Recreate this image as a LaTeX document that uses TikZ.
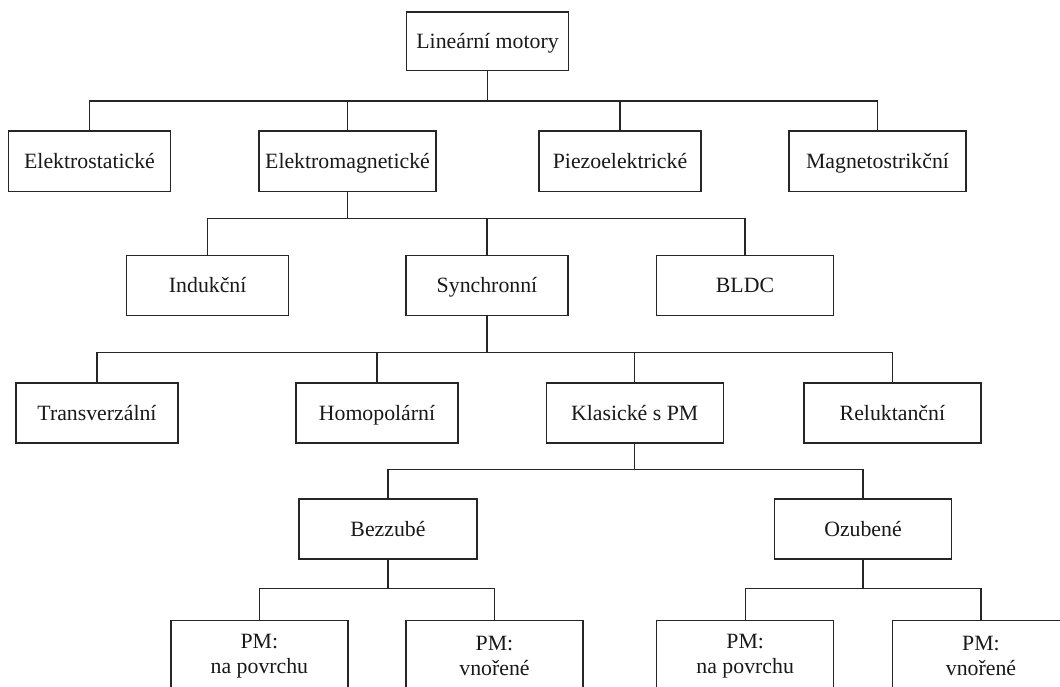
\documentclass[tikz,border=0pt]{standalone}
\usepackage{fontspec}
\setmainfont{Liberation Serif}
\begin{document}
\begin{tikzpicture}[x=1pt,y=-1pt,
  box/.style={draw=black!85, line width=1.2pt, rectangle, outer sep=0pt,
    inner sep=0pt, text=black!90,
    font=\fontsize{21.8}{24.7}\selectfont},
  oneline/.style={box, text height=19.6pt, text depth=5.2pt},
  narrow/.style={oneline, minimum width=162pt, minimum height=60pt},
  wide/.style={oneline, minimum width=177pt, minimum height=60pt},
  tall/.style={box, align=center, minimum width=177pt, minimum height=71pt},
  link/.style={draw=black!85, line width=1.2pt}]
\useasboundingbox (0,0) rectangle (1060,686);
\clip (0,0) rectangle (1060,686);
\fill[white] (0,0) rectangle (1060,686);

% root
\node[narrow, minimum height=58.5pt] (root) at (487.5,41.3) {Lineární motory};

% first level
\node[narrow, minimum height=60.5pt] (est)   at (89.5,161.3)  {Elektrostatické};
\node[wide,   minimum height=60.5pt] (emag)  at (347.5,161.3) {Elektromagnetické};
\node[narrow, minimum height=60.5pt] (piezo) at (620,161.3)   {Piezoelektrické};
\node[wide,   minimum height=60.5pt] (magn)  at (877.5,161.3) {Magnetostrikční};

% electromagnetic motors
\node[narrow] (ind)  at (207.7,285.7) {Indukční};
\node[narrow] (syn)  at (487,285.7)   {Synchronní};
\node[wide]   (bldc) at (745,285.7)   {BLDC};

% synchronous motors
\node[narrow] (trans) at (97,413)    {Transverzální};
\node[narrow] (homo)  at (377,413)   {Homopolární};
\node[wide]   (klas)  at (634.7,413) {Klasické s PM};
\node[wide]   (rel)   at (892.4,413) {Reluktanční};

% classic PM motors
\node[wide, minimum width=178pt] (bez) at (388,529) {Bezzubé};
\node[wide] (ozu) at (863,529) {Ozubené};

% magnet placement
\node[tall] (pmA) at (259.4,656) {PM:\\na povrchu};
\node[tall] (pmB) at (494.5,656) {PM:\\vnořené};
\node[tall] (pmC) at (745.2,656) {PM:\\na povrchu};
\node[tall] (pmD) at (981,656)   {PM:\\vnořené};

% connectors
\foreach \c in {est,emag,piezo,magn}
  \draw[link] (root.south) -- ++(0,30.5) -| (\c.north);
\foreach \c in {ind,syn,bldc}
  \draw[link] (emag.south) -- ++(0,27) -| (\c.north);
\foreach \c in {trans,homo,klas,rel}
  \draw[link] (syn.south) -- ++(0,37) -| (\c.north);
\foreach \c in {bez,ozu}
  \draw[link] (klas.south) -- ++(0,26.5) -| (\c.north);
\foreach \c in {pmA,pmB}
  \draw[link] (bez.south) -- ++(0,29.5) -| (\c.north);
\foreach \c in {pmC,pmD}
  \draw[link] (ozu.south) -- ++(0,29.5) -| (\c.north);
\end{tikzpicture}
\end{document}
